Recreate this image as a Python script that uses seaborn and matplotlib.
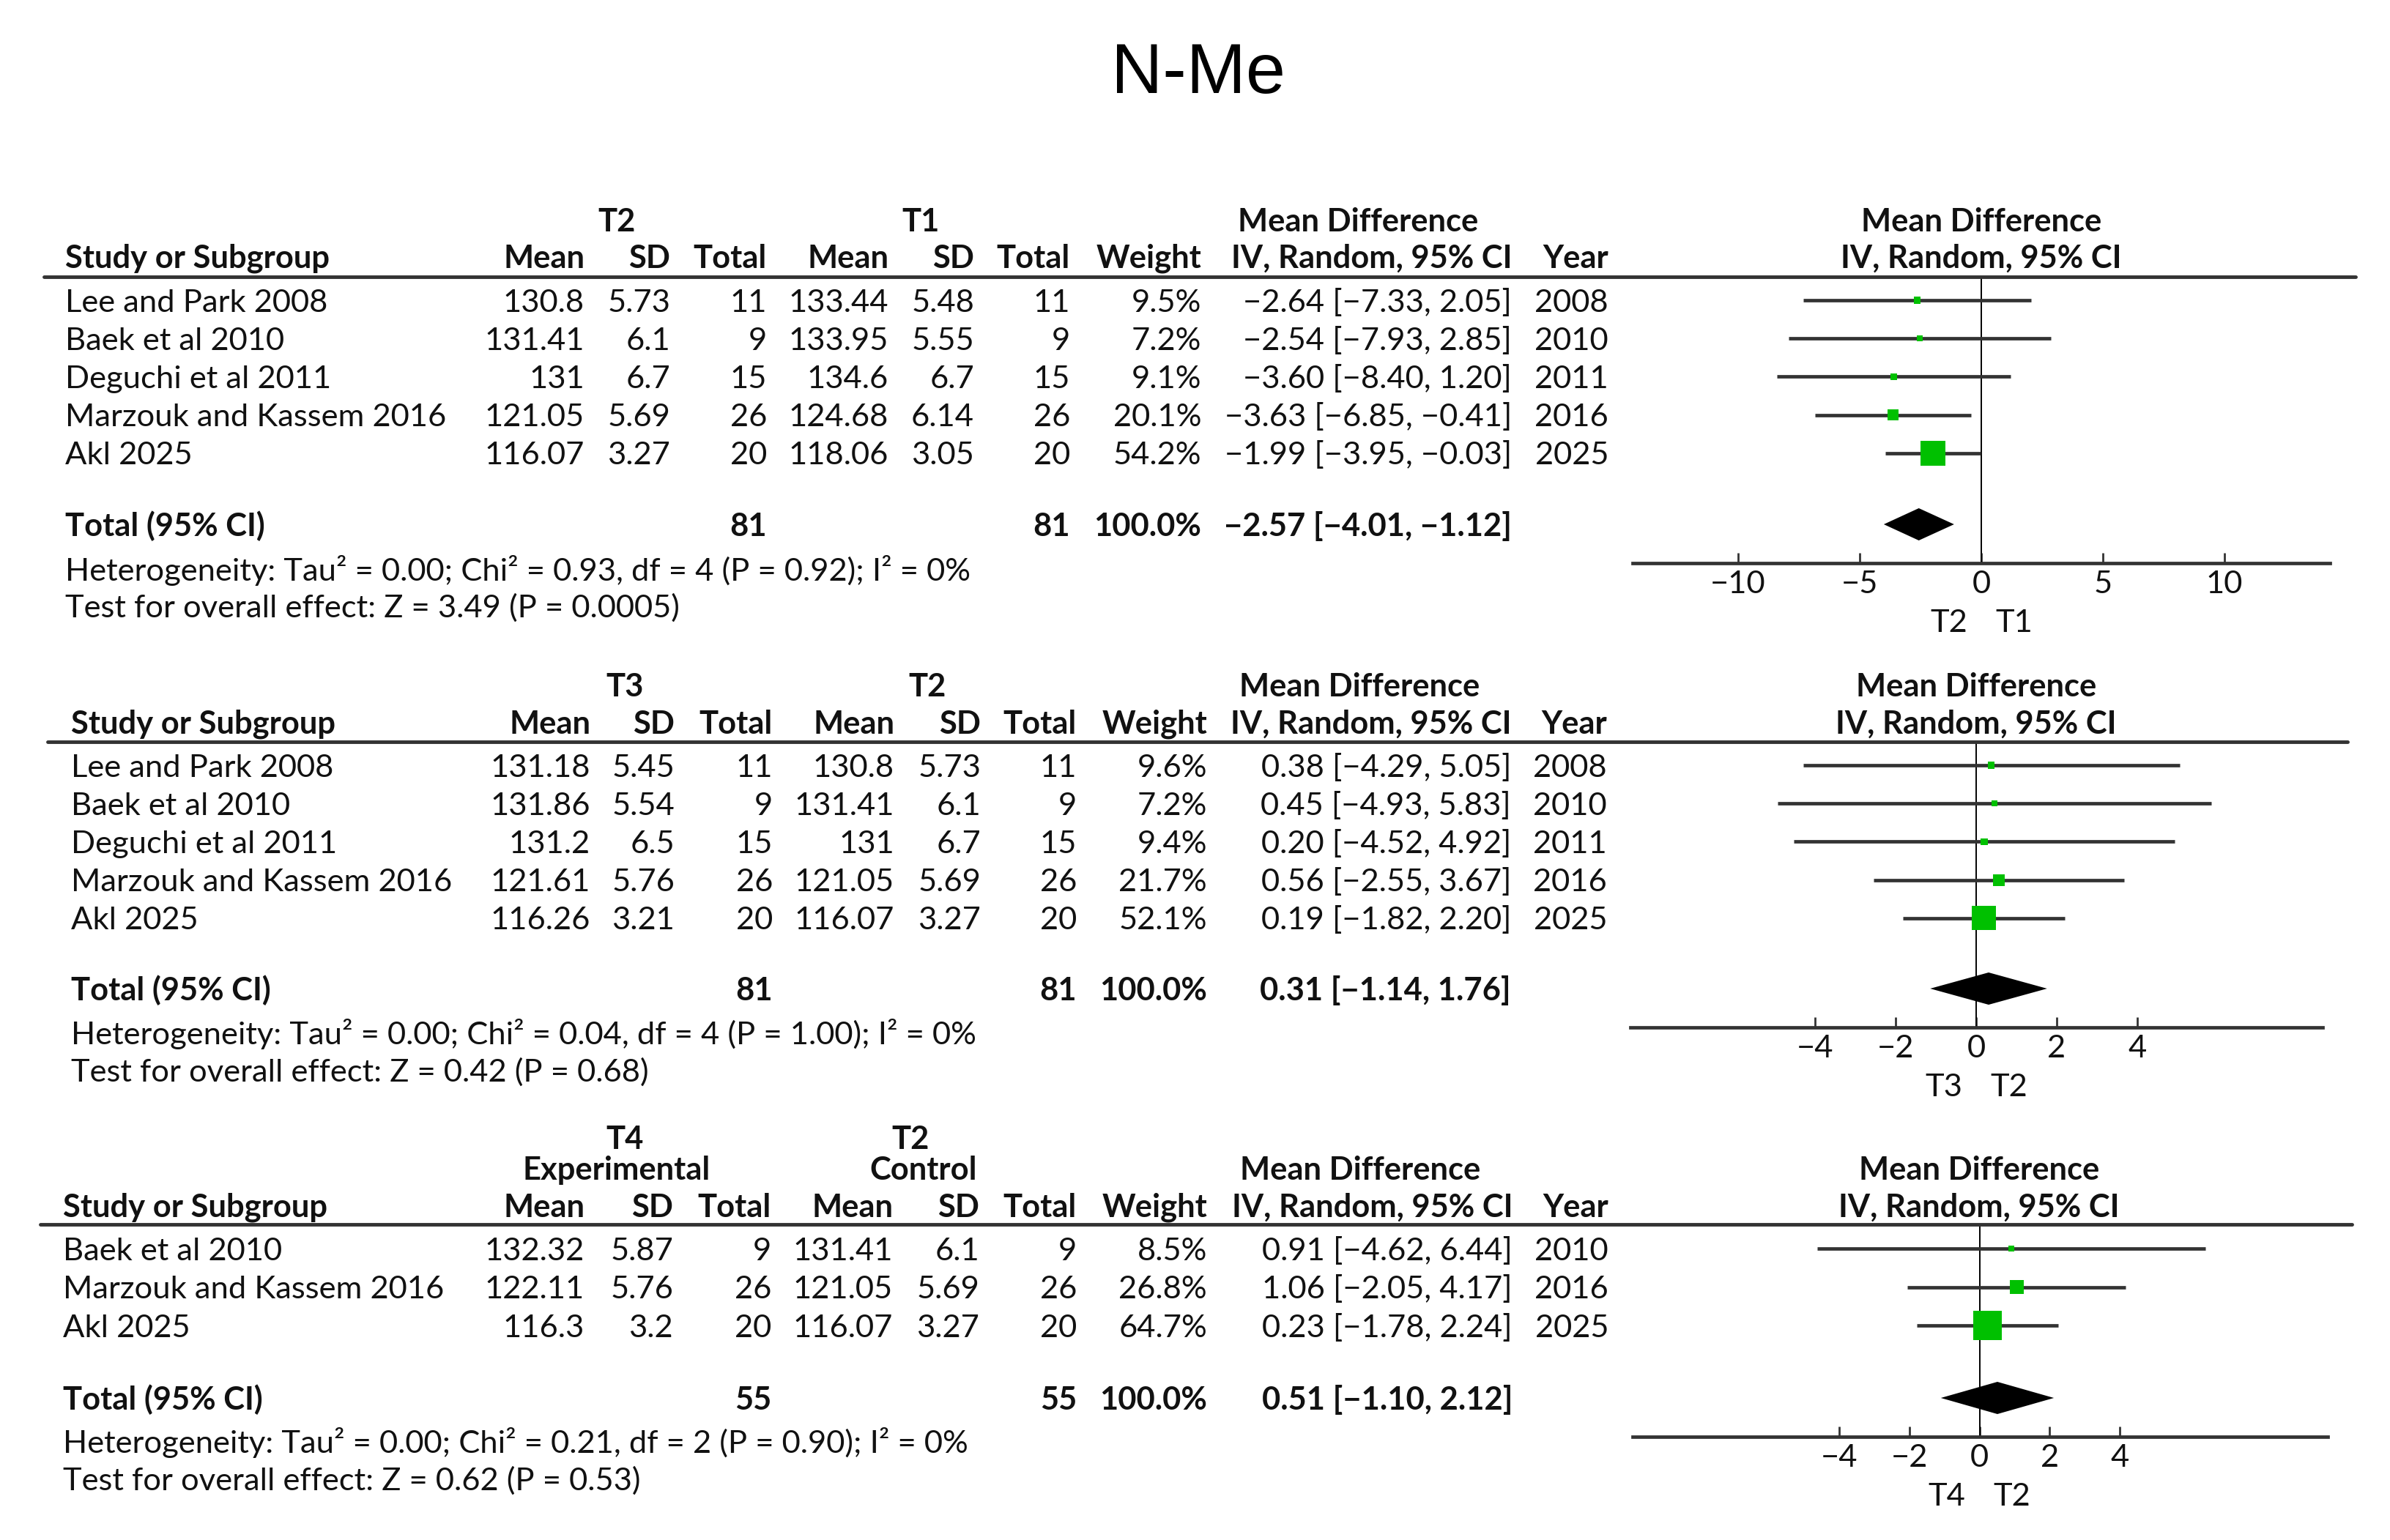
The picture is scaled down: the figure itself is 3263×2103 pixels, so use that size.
import numpy as np
import pandas as pd
import matplotlib
matplotlib.use("Agg")
import matplotlib.pyplot as plt
import seaborn as sns
from matplotlib.lines import Line2D

# ---------------- data ----------------
# Panel 1: T2 vs T1
studies_1 = ["Lee and Park 2008", "Baek et al 2010", "Deguchi et al 2011",
             "Marzouk and Kassem 2016", "Akl 2025"]
g1_mean_1 = [130.8, 131.41, 131, 121.05, 116.07]
g1_sd_1 = [5.73, 6.1, 6.7, 5.69, 3.27]
g1_n_1 = [11, 9, 15, 26, 20]
g2_mean_1 = [133.44, 133.95, 134.6, 124.68, 118.06]
g2_sd_1 = [5.48, 5.55, 6.7, 6.14, 3.05]
g2_n_1 = [11, 9, 15, 26, 20]
weight_1 = [9.5, 7.2, 9.1, 20.1, 54.2]
md_1 = [-2.64, -2.54, -3.60, -3.63, -1.99]
lo_1 = [-7.33, -7.93, -8.40, -6.85, -3.95]
hi_1 = [2.05, 2.85, 1.20, -0.41, -0.03]
year_1 = [2008, 2010, 2011, 2016, 2025]
total_n_1 = [81, 81]
total_md_1 = [-2.57, -4.01, -1.12]
het_1 = "Heterogeneity: Tau² = 0.00; Chi² = 0.93, df = 4 (P = 0.92); I² = 0%"
test_1 = "Test for overall effect: Z = 3.49 (P = 0.0005)"
groups_1 = ["T2", "T1"]
ticks_1 = [-10, -5, 0, 5, 10]

# Panel 2: T3 vs T2
studies_2 = ["Lee and Park 2008", "Baek et al 2010", "Deguchi et al 2011",
             "Marzouk and Kassem 2016", "Akl 2025"]
g1_mean_2 = [131.18, 131.86, 131.2, 121.61, 116.26]
g1_sd_2 = [5.45, 5.54, 6.5, 5.76, 3.21]
g1_n_2 = [11, 9, 15, 26, 20]
g2_mean_2 = [130.8, 131.41, 131, 121.05, 116.07]
g2_sd_2 = [5.73, 6.1, 6.7, 5.69, 3.27]
g2_n_2 = [11, 9, 15, 26, 20]
weight_2 = [9.6, 7.2, 9.4, 21.7, 52.1]
md_2 = [0.38, 0.45, 0.20, 0.56, 0.19]
lo_2 = [-4.29, -4.93, -4.52, -2.55, -1.82]
hi_2 = [5.05, 5.83, 4.92, 3.67, 2.20]
year_2 = [2008, 2010, 2011, 2016, 2025]
total_n_2 = [81, 81]
total_md_2 = [0.31, -1.14, 1.76]
het_2 = "Heterogeneity: Tau² = 0.00; Chi² = 0.04, df = 4 (P = 1.00); I² = 0%"
test_2 = "Test for overall effect: Z = 0.42 (P = 0.68)"
groups_2 = ["T3", "T2"]
ticks_2 = [-4, -2, 0, 2, 4]

# Panel 3: T4 vs T2
studies_3 = ["Baek et al 2010", "Marzouk and Kassem 2016", "Akl 2025"]
g1_mean_3 = [132.32, 122.11, 116.3]
g1_sd_3 = [5.87, 5.76, 3.2]
g1_n_3 = [9, 26, 20]
g2_mean_3 = [131.41, 121.05, 116.07]
g2_sd_3 = [6.1, 5.69, 3.27]
g2_n_3 = [9, 26, 20]
weight_3 = [8.5, 26.8, 64.7]
md_3 = [0.91, 1.06, 0.23]
lo_3 = [-4.62, -2.05, -1.78]
hi_3 = [6.44, 4.17, 2.24]
year_3 = [2010, 2016, 2025]
total_n_3 = [55, 55]
total_md_3 = [0.51, -1.10, 2.12]
het_3 = "Heterogeneity: Tau² = 0.00; Chi² = 0.21, df = 2 (P = 0.90); I² = 0%"
test_3 = "Test for overall effect: Z = 0.62 (P = 0.53)"
groups_3 = ["T4", "T2"]
ticks_3 = [-4, -2, 0, 2, 4]

# ---------------- style ----------------
W, H, DPI = 3263, 2103, 100
sns.set_theme(style="white")
FONT = "Lato"
plt.rcParams["font.family"] = [FONT, "DejaVu Sans"]
GREEN = "#00C000"
LINEC = "#333333"

fig = plt.figure(figsize=(W / DPI, H / DPI), dpi=DPI)
fig.patch.set_facecolor("white")
renderer = fig.canvas.get_renderer()

# fit font size so that the longest study label has the reference width
probe = fig.text(0, 0, "Marzouk and Kassem 2016", fontsize=10, family=FONT)
FS = 10 * 520 / probe.get_window_extent(renderer).width
probe.remove()


def put(x, y, s, ha="left", bold=False, size=None, family=None):
    """Place text with its cap-height centre at pixel (x, y)."""
    fs = size if size else FS
    cap = 0.7165 * fs * DPI / 72
    fig.text(x / W, 1 - (y + cap / 2) / H, s, ha=ha, va="baseline",
             fontsize=fs, fontweight="bold" if bold else "normal",
             family=family if family else FONT, color="#111111")


def fmt(v):
    return f"{v:g}"


def fmt_ci(m, l, h):
    return f"{m:.2f} [{l:.2f}, {h:.2f}]".replace("-", "\u2212")


def hline(y, x0, x1, lw=3.5):
    fig.add_artist(Line2D([x0 / W, x1 / W], [1 - y / H, 1 - y / H],
                          transform=fig.transFigure, color=LINEC, lw=lw))


def panel(studies, g1m, g1s, g1n, g2m, g2s, g2n, wts, md, lo, hi, years,
          tot_n, tot_md, het, test, groups, ticks, L):
    sx = L["study_x"]
    c = L["cols"]
    # group headers
    for txt, (gx, gy) in L["group_heads"]:
        put(gx, gy, txt, ha="center", bold=True)
    put(L["mdhead_x"], L["hdr1"], "Mean Difference", ha="center", bold=True)
    # column headers
    y2 = L["hdr2"]
    put(sx, y2, "Study or Subgroup", bold=True)
    for txt, x in zip(["Mean", "SD", "Total", "Mean", "SD", "Total", "Weight",
                       "IV, Random, 95% CI", "Year"], c):
        put(x, y2, txt, ha="right", bold=True)
    hline(L["line"], L["line_x"][0], L["line_x"][1])
    # rows
    rows_y = [L["row0"] + i * L["step"] for i in range(len(studies))]
    for i, yy in enumerate(rows_y):
        put(sx, yy, studies[i])
        vals = [fmt(g1m[i]), fmt(g1s[i]), str(g1n[i]), fmt(g2m[i]), fmt(g2s[i]),
                str(g2n[i]), f"{wts[i]:.1f}%", fmt_ci(md[i], lo[i], hi[i]),
                str(years[i])]
        for v, x in zip(vals, c):
            put(x, yy, v, ha="right")
    # total
    ty = L["total"]
    put(sx, ty, "Total (95% CI)", bold=True)
    put(c[2], ty, str(tot_n[0]), ha="right", bold=True)
    put(c[5], ty, str(tot_n[1]), ha="right", bold=True)
    put(c[6], ty, "100.0%", ha="right", bold=True)
    put(c[7], ty, fmt_ci(*tot_md), ha="right", bold=True)
    put(sx, L["het"], het)
    put(sx, L["test"], test)

    # forest plot
    fl, fr = L["forest_x"]
    top, bot = L["line"], L["axis"]
    ax = fig.add_axes([fl / W, 1 - bot / H, (fr - fl) / W, (bot - top) / H])
    ax.set_facecolor("none")
    df = pd.DataFrame({"md": md, "lo": lo, "hi": hi, "y": rows_y, "w": wts})
    side_pt = (4 + 0.55 * df["w"]) * 72 / DPI
    ax.axvline(0, color="black", lw=1.4, zorder=1)
    ax.hlines(df["y"], df["lo"], df["hi"], color=LINEC, lw=3.4, zorder=2)
    sns.scatterplot(data=df, x="md", y="y", marker="s", s=side_pt ** 2,
                    color=GREEN, linewidth=0, ax=ax, zorder=3, legend=False)
    hh = 22
    m, l, h = tot_md
    ax.fill([l, m, h, m], [ty, ty - hh, ty, ty + hh], color="black", lw=0,
            zorder=4)
    ax.set_xlim(L["xlim"])
    ax.set_ylim(bot, top)
    ax.set_xlabel("")
    ax.set_ylabel("")
    ax.set_yticks([])
    ax.set_xticks(ticks)
    ax.set_xticklabels([f"{t:d}".replace("-", "\u2212") for t in ticks])
    for sp in ["top", "left", "right"]:
        ax.spines[sp].set_visible(False)
    ax.spines["bottom"].set_color(LINEC)
    ax.spines["bottom"].set_linewidth(3.4)
    ax.tick_params(axis="x", direction="in", length=10, width=2, color=LINEC,
                   labelsize=FS, pad=7, labelcolor="#111111", bottom=True)
    # forest header
    fx0 = L["zero_px"]
    put(fx0, L["hdr1"], "Mean Difference", ha="center", bold=True)
    put(fx0, y2, "IV, Random, 95% CI", ha="center", bold=True)
    put(fx0 - 19, L["glab"], groups[0], ha="right")
    put(fx0 + 19, L["glab"], groups[1], ha="left")


L1 = dict(study_x=89, cols=[798, 915, 1047, 1213, 1330, 1461, 1640, 2064, 2196],
          group_heads=[("T2", (842, 300)), ("T1", (1257, 300))], mdhead_x=1854,
          hdr1=300, hdr2=350, line=378, line_x=(60, 3216), row0=410, step=52.2,
          total=716, het=777, test=827, forest_x=(2229, 3181), axis=769,
          xlim=(-14.34, 14.34), zero_px=2705, glab=847)
L2 = dict(study_x=97, cols=[806, 921, 1055, 1221, 1339, 1470, 1648, 2063, 2194],
          group_heads=[("T3", (853, 935)), ("T2", (1266, 935))], mdhead_x=1856,
          hdr1=935, hdr2=986, line=1013, line_x=(65, 3205), row0=1045, step=52.2,
          total=1350, het=1410, test=1461, forest_x=(2226, 3171), axis=1403,
          xlim=(-8.58, 8.60), zero_px=2698, glab=1481)
L3 = dict(study_x=86, cols=[798, 919, 1053, 1219, 1337, 1470, 1648, 2065, 2196],
          group_heads=[("T4", (853, 1553)), ("Experimental", (842, 1595)),
                       ("T2", (1243, 1553)), ("Control", (1261, 1595))],
          mdhead_x=1857, hdr1=1595, hdr2=1646, line=1672, line_x=(55, 3211),
          row0=1705, step=52.6, total=1909, het=1968, test=2019,
          forest_x=(2229, 3178), axis=1962, xlim=(-9.88, 9.92), zero_px=2702,
          glab=2040)

panel(studies_1, g1_mean_1, g1_sd_1, g1_n_1, g2_mean_1, g2_sd_1, g2_n_1, weight_1,
      md_1, lo_1, hi_1, year_1, total_n_1, total_md_1, het_1, test_1, groups_1,
      ticks_1, L1)
panel(studies_2, g1_mean_2, g1_sd_2, g1_n_2, g2_mean_2, g2_sd_2, g2_n_2, weight_2,
      md_2, lo_2, hi_2, year_2, total_n_2, total_md_2, het_2, test_2, groups_2,
      ticks_2, L2)
panel(studies_3, g1_mean_3, g1_sd_3, g1_n_3, g2_mean_3, g2_sd_3, g2_n_3, weight_3,
      md_3, lo_3, hi_3, year_3, total_n_3, total_md_3, het_3, test_3, groups_3,
      ticks_3, L3)

# title
fig.text(1636 / W, 1 - 127 / H, "N-Me", ha="center", va="baseline", fontsize=70,
         family=["Liberation Sans", "DejaVu Sans"], color="black")

fig.savefig("out.png", dpi=DPI, facecolor="white")
